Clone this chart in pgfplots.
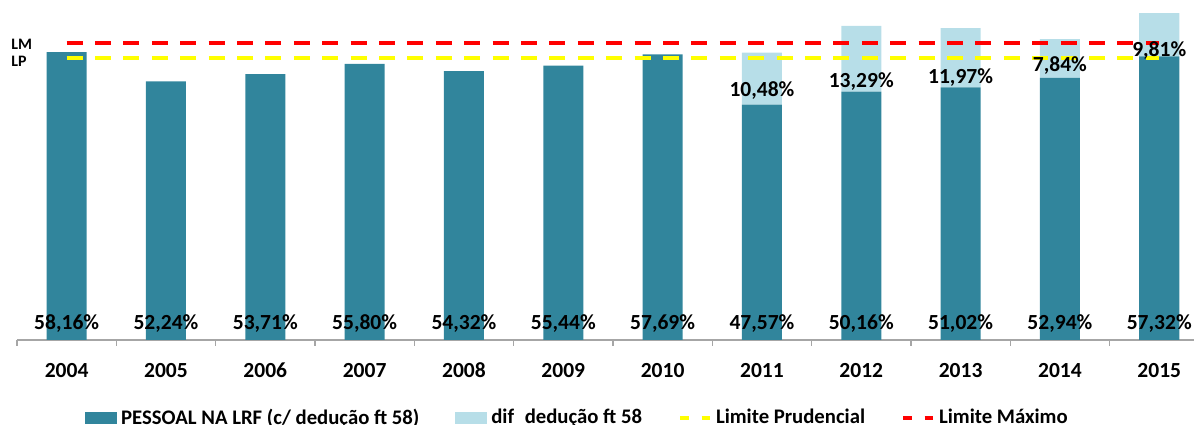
\documentclass[border=0pt]{standalone}
\usepackage{pgfplots}
\pgfplotsset{compat=1.18}
\usepackage{fontspec}
\setmainfont{Carlito}
\definecolor{teal1}{HTML}{31859C}
\definecolor{lblue}{HTML}{B7DEE8}
\definecolor{axgray}{HTML}{A6A6A6}
\definecolor{lpyellow}{HTML}{FFFF00}
\definecolor{lmred}{HTML}{FF0000}
\newcommand{\lblfont}{\bfseries\fontsize{10.8}{13}\selectfont}
\newcommand{\legfont}{\bfseries\fontsize{10.4}{12.5}\selectfont}
\pgfplotsset{
  barlegend/.style={legend image code/.code={\path[##1] (0bp,-3bp) rectangle (16bp,3bp);}},
  common/.style={
    scale only axis, width=588.5bp, height=163.35bp,
    xmin=-0.5, xmax=11.35, ymin=0, ymax=66,
  },
}
\begin{document}
\begin{tikzpicture}
\begin{axis}[common,
  clip=true,
  axis y line=none, axis x line*=bottom,
  x axis line style={axgray, line width=0.6bp},
  xtick={0,1,2,3,4,5,6,7,8,9,10,11},
  xticklabels={2004,2005,2006,2007,2008,2009,2010,2011,2012,2013,2014,2015},
  major tick length=0pt,
  extra x ticks={-0.5,0.5,1.5,2.5,3.5,4.5,5.5,6.5,7.5,8.5,9.5,10.5},
  extra x tick labels={},
  extra x tick style={major tick length=3bp, tick align=outside, tick style={axgray, line width=0.6bp}},
  xticklabel style={font=\lblfont, yshift=-8bp},
  ybar stacked, bar width=0.403,
  legend columns=4,
  legend style={draw=none, fill=none, at={(0.477,-0.2388)}, anchor=center,
    font=\legfont, /tikz/every even column/.append style={column sep=16bp}},
]
\addplot[fill=teal1, draw=none, barlegend]
  coordinates {(0,58.16) (1,52.24) (2,53.71) (3,55.80) (4,54.32) (5,55.44)
               (6,57.69) (7,47.57) (8,50.16) (9,51.02) (10,52.94) (11,57.32)};
\addlegendentry{PESSOAL NA LRF (c/ dedução ft 58)}
\addplot[fill=lblue, draw=none, barlegend]
  coordinates {(0,0) (1,0) (2,0) (3,0) (4,0) (5,0)
               (6,0) (7,10.48) (8,13.29) (9,11.97) (10,7.84) (11,9.81)};
\addlegendentry{dif\hspace{3bp}\ dedução ft 58}
\addlegendimage{legend image code/.code={\draw[lpyellow, line width=2bp, dash pattern=on 4.25bp off 6.5bp] (0bp,0bp) -- (15bp,0bp);}}
\addlegendentry{Limite Prudencial}
\addlegendimage{legend image code/.code={\draw[lmred, line width=2bp, dash pattern=on 4.25bp off 6.5bp] (0bp,0bp) -- (15bp,0bp);}}
\addlegendentry{Limite Máximo}
\coordinate (bbsw) at (axis cs:-0.671,-17.17);
\coordinate (bbne) at (axis cs:11.35,68.69);
\end{axis}
\begin{axis}[common, hide axis, clip=false]
\addplot[lmred, line width=2bp, dash pattern=on 8bp off 6.2bp] coordinates {(0,60) (11,60)};
\addplot[lpyellow, line width=2bp, dash pattern=on 8bp off 6.2bp] coordinates {(0,57) (11,57)};
\addplot[draw=none, mark=none, nodes near coords, point meta=explicit symbolic,
  every node near coord/.append style={font=\lblfont, text=black, anchor=center}]
  table[meta=l] {
x y l
0 3.4 58,16\%
1 3.4 52,24\%
2 3.4 53,71\%
3 3.4 55,80\%
4 3.4 54,32\%
5 3.4 55,44\%
6 3.4 57,69\%
7 3.4 47,57\%
8 3.4 50,16\%
9 3.4 51,02\%
10 3.4 52,94\%
11 3.4 57,32\%
7 50.4 10,48\%
8 52.2 13,29\%
9 53.1 11,97\%
10 55.4 7,84\%
11 58.4 9,81\%
};
\node[anchor=west, font=\bfseries\fontsize{8}{9}\selectfont, inner sep=0pt] at (axis cs:-0.56,59.8) {LM};
\node[anchor=west, font=\bfseries\fontsize{8}{9}\selectfont, inner sep=0pt] at (axis cs:-0.56,56.3) {LP};
\end{axis}
\pgfresetboundingbox
\useasboundingbox (bbsw) rectangle (bbne);
\end{tikzpicture}
\end{document}
